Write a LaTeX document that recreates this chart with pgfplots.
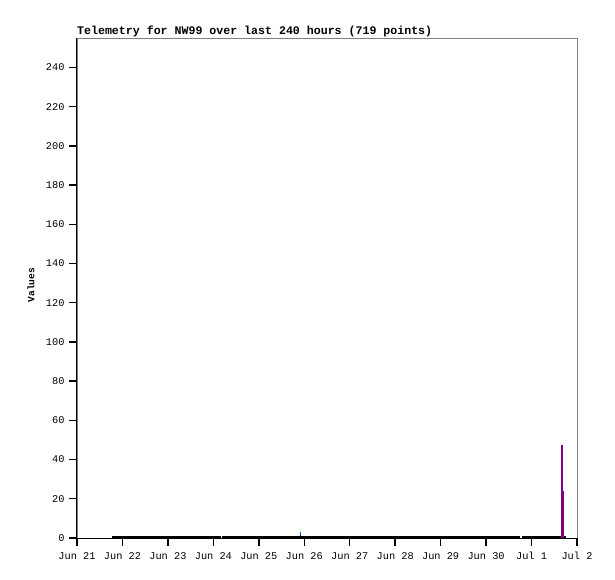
\documentclass[border=0pt]{standalone}
\usepackage{fontspec}
\setmainfont{Liberation Mono}
\usepackage{pgfplots}
\pgfplotsset{compat=1.18}
\usetikzlibrary{calc}
\definecolor{vpurple}{RGB}{128,0,128}
\definecolor{vblue}{RGB}{0,102,204}
\begin{document}
\begin{tikzpicture}
\begin{axis}[
  name=main,
  scale only axis, width=500pt, height=500pt,
  xmin=0, xmax=11, ymin=0, ymax=255,
  axis line style={gray},
  xtick={0,...,11},
  xticklabels={Jun 21,Jun 22,Jun 23,Jun 24,Jun 25,Jun 26,Jun 27,Jun 28,Jun 29,Jun 30,Jul 1,Jul 2},
  ytick={0,20,...,240},
  xtick pos=bottom, ytick pos=left,
  tick align=outside,
  major tick length=0pt,
  ticklabel style={font=\fontsize{10.3}{11}\selectfont},
  /pgf/number format/assume math mode=true,
  xticklabel style={text height=7pt, text depth=2pt, yshift=-11pt},
  yticklabel style={xshift=-9pt},
  clip=false,
]
% baseline series
\addplot[black, line width=2.5pt, no marks] coordinates {(0.77,0.6) (3.17,0.6)};
\addplot[black, line width=2.5pt, no marks] coordinates {(3.20,0.6) (9.75,0.6)};
\addplot[black, line width=2.5pt, no marks] coordinates {(9.78,0.6) (10.76,0.6)};
% small spikes
\addplot[vblue, ycomb, line width=1.5pt, no marks] coordinates {(4.92,3.0)};
\addplot[black, ycomb, line width=1.5pt, no marks] coordinates {(4.92,1.5)};
% purple spikes
\addplot[vpurple, ycomb, line width=1.6pt, no marks] coordinates {(10.665,47.5) (10.695,24)};
\end{axis}
\draw[black, line width=1pt] (main.north west) -- (main.south west) -- (main.south east);
\foreach \i in {0,...,11} \draw[black, line width=1.4pt] ($(main.south west)+(\i*45.4545 pt,0pt)$) -- ++(0pt,-7.5pt);
\foreach \j in {0,...,12} \draw[black, line width=1.4pt] ($(main.south west)+(0pt,\j*39.2157 pt)$) -- ++(-7.5pt,0pt);
\node[anchor=base west, inner sep=0pt, font=\bfseries\fontsize{11.6}{12}\selectfont] at ($(main.north west)+(0pt,3pt)$) {Telemetry for NW99 over last 240 hours (719 points)};
\node[rotate=90, inner sep=0pt, font=\bfseries\fontsize{9.6}{10}\selectfont] at ($(main.south west)+(-46pt,253pt)$) {Values};
\path ($(main.south west)+(-77pt,-41pt)$) rectangle ($(main.north east)+(38pt,38pt)$);
\end{tikzpicture}
\end{document}
